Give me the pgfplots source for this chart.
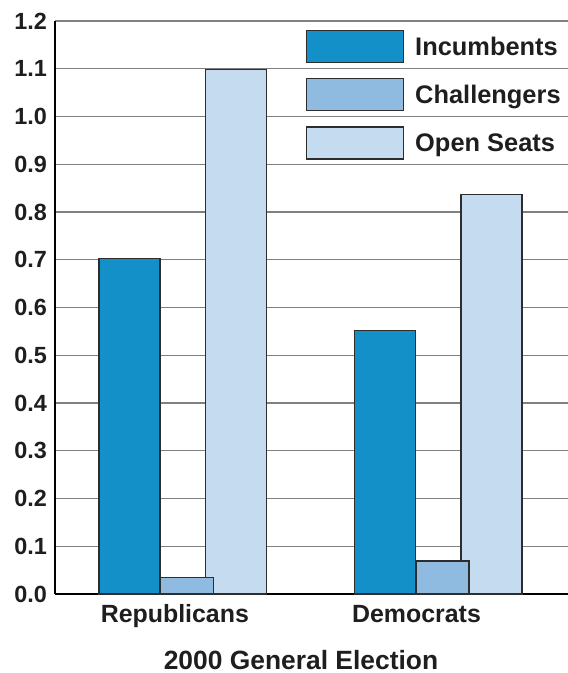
\documentclass[border=0pt]{standalone}
\usepackage{fontspec}
\setmainfont{Liberation Sans}
\usepackage{pgfplots}
\pgfplotsset{compat=1.18}
\definecolor{inc}{RGB}{20,144,200}
\definecolor{cha}{RGB}{143,187,224}
\definecolor{ope}{RGB}{197,219,239}
\definecolor{edge}{RGB}{45,45,45}
\definecolor{gridc}{RGB}{128,128,128}
\definecolor{txt}{RGB}{30,30,30}
\begin{document}
\begin{tikzpicture}[x=1bp,y=1bp]
\begin{axis}[
  at={(0,0)}, anchor=south west,
  scale only axis, width=513bp, height=573bp,
  xmin=-0.5, xmax=1.508, ymin=0, ymax=1.2,
  axis x line*=bottom, axis y line*=left,
  axis line style={-},
  x axis line style={line width=2.6bp, black},
  y axis line style={line width=1.6bp, black},
  ytick={0,0.1,0.2,0.3,0.4,0.5,0.6,0.7,0.8,0.9,1.0,1.1,1.2},
  ymajorgrids, grid style={gridc, line width=1.3bp},
  major tick length=0pt,
  xtick={-0.031,0.915}, xticklabels={Republicans,Democrats},
  xticklabel style={font=\fontsize{25}{30}\selectfont\bfseries, text=txt, anchor=base, inner sep=0pt, yshift=-28bp},
  yticklabel style={font=\fontsize{23.5}{28}\selectfont\bfseries, text=txt, anchor=east, inner sep=0pt, xshift=-8bp,
    /pgf/number format/.cd, fixed, fixed zerofill, precision=1, assume math mode=true},
  legend style={at={(axis description cs:0.4893,0.9843)}, anchor=north west, draw=none, fill=none,
    inner sep=0pt, outer sep=0pt, row sep=15bp, column sep=11bp,
    nodes={inner sep=0pt, font=\fontsize{25.5}{30}\selectfont\bfseries, text=txt}},
  legend cell align=left,
  legend image code/.code={\draw[#1, line width=1.2bp] (0bp,-16bp) rectangle (97bp,16bp);},
  clip=false,
]
\addlegendimage{fill=inc, draw=edge}
\addlegendentry{Incumbents}
\addlegendimage{fill=cha, draw=edge}
\addlegendentry{Challengers}
\addlegendimage{fill=ope, draw=edge}
\addlegendentry{Open Seats}

\addplot[ybar, bar width=61bp, bar shift=-53.2bp, fill=inc, draw=edge, line width=1.2bp, forget plot]
  coordinates {(0,0.703) (1,0.551)};
\addplot[ybar, bar width=61bp, bar shift=53.2bp, fill=ope, draw=edge, line width=1.2bp, forget plot]
  coordinates {(0,1.099) (1,0.836)};
\addplot[ybar, bar width=52.6bp, bar shift=4.4bp, fill=cha, draw=edge, line width=1.2bp, forget plot]
  coordinates {(0,0.035) (1,0.069)};

\node[anchor=base, font=\fontsize{26.5}{30}\selectfont\bfseries, text=txt]
  at (axis description cs:0.4795,0) [yshift=-75bp] {2000 General Election};
\end{axis}
\pgfresetboundingbox
\path (-55bp,-79bp) rectangle (513bp,594bp);
\end{tikzpicture}
\end{document}
